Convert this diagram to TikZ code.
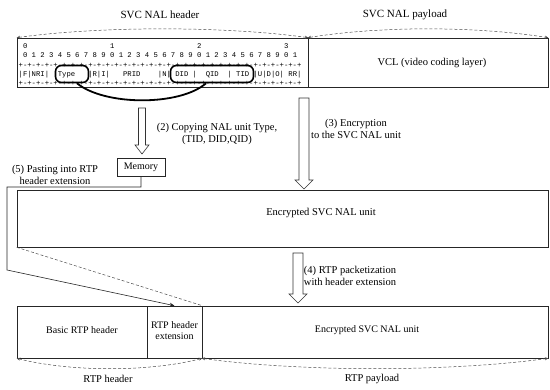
\documentclass[tikz,border=0pt]{standalone}
\usepackage{fontspec}
\setmainfont{Liberation Serif}
\setmonofont{Liberation Mono}
\usetikzlibrary{arrows.meta}
\newcommand\hollowdown[6]{% name, x, ytop, ytip, shaft half, head half
  \draw[hollow] (#2-#5,#3) -- (#2+#5,#3) -- (#2+#5,#4-9) -- (#2+#6,#4-9) -- (#2,#4) coordinate (#1) -- (#2-#6,#4-9) -- (#2-#5,#4-9) -- cycle;}
\begin{document}
\begin{tikzpicture}[x=1pt,y=-1pt,
  lbl/.style={font=\fontsize{10.5}{11.5}\selectfont, align=center, inner sep=0pt},
  bits/.style={font=\fontsize{7.25}{8}\selectfont\ttfamily, anchor=base west, inner sep=0pt},
  frame/.style={draw=black!85, line width=0.6pt, inner sep=0pt},
  brace/.style={draw=black!70, densely dashed, line width=0.5pt, {Stealth[length=3.5pt,width=3pt]}-{Stealth[length=3.5pt,width=3pt]}},
  hollow/.style={draw=black!80, line width=0.6pt, fill=white},
  callout/.style={draw=black, line width=1.6pt, rounded corners=6pt, inner sep=0pt},
  conn/.style={draw=black!85, line width=0.6pt},
]
\useasboundingbox (0,0) rectangle (550,390);
% top row
\node[frame, minimum width=291pt, minimum height=49pt] (hdr) at (162.5,62.5) {};
\node[frame, minimum width=240pt, minimum height=49pt] (pay) at (428,62.5) {};
\node[lbl] (vcl) at (432,63) {VCL (video coding layer)};
\node[bits] (r1) at (18.5,48.5) {~0~~~~~~~~~~~~~~~~~~~1~~~~~~~~~~~~~~~~~~~2~~~~~~~~~~~~~~~~~~~3};
\node[bits] (r2) at (18.5,58) {~0~1~2~3~4~5~6~7~8~9~0~1~2~3~4~5~6~7~8~9~0~1~2~3~4~5~6~7~8~9~0~1};
\node[bits] (r3) at (18.5,67.5) {+-+-+-+-+-+-+-+-+-+-+-+-+-+-+-+-+-+-+-+-+-+-+-+-+-+-+-+-+-+-+-+-+};
\node[bits] (r4) at (18.5,77) {|F|NRI|~~Type~~~|R|I|~~~PRID~~~~|N|~DID~|~~QID~~|~TID~|U|D|O|~RR|};
\node[bits] (r5) at (18.5,86) {+-+-+-+-+-+-+-+-+-+-+-+-+-+-+-+-+-+-+-+-+-+-+-+-+-+-+-+-+-+-+-+-+};
\node[callout, minimum width=33pt, minimum height=17pt] (ctype) at (72,74) {};
\node[callout, minimum width=83pt, minimum height=17pt] (cdid) at (212,74) {};
\draw[line width=1.8pt] ([xshift=5pt]ctype.south) .. controls (105,106) and (180,106) .. ([xshift=-6pt]cdid.south);
% braces top
\node[lbl, font=\fontsize{11}{12}\selectfont] (thdr) at (160,15) {SVC NAL header};
\node[lbl, font=\fontsize{11}{12}\selectfont] (tpay) at (405,15) {SVC NAL payload};
\draw[brace] (hdr.north west) .. controls (100,26) and (225,26) .. (hdr.north east);
\draw[brace] (pay.north west) .. controls (380,26) and (475,26) .. (pay.north east);
% step 2
\hollowdown{a2}{142}{108}{154}{3.5}{7}
\node[lbl] (l2) at (217,134) {(2) Copying NAL unit Type,\\(TID, DID,QID)};
\node[frame, minimum width=48pt, minimum height=18pt, font=\fontsize{10}{11}\selectfont] (mem) at (141,167) {Memory};
% step 3
\hollowdown{a3}{304}{98}{189}{5}{9}
\node[lbl] (l3) at (356,129) {(3) Encryption\\to the SVC NAL unit};
% encrypted
\node[frame, minimum width=531pt, minimum height=57pt] (enc) at (282.5,218.5) {};
\node[lbl] (tenc) at (321,213) {Encrypted SVC NAL unit};
% step 5
\node[lbl] (l5) at (55,175) {(5) Pasting into RTP\\header extension};
% step 4
\hollowdown{a4}{298}{253}{303}{5}{9}
\node[lbl] (l4) at (350,276) {(4) RTP packetization\\with header extension};
% RTP row
\node[frame, minimum width=130pt, minimum height=52pt] (basic) at (82,332) {};
\node[frame, minimum width=55pt, minimum height=52pt] (ext) at (174.5,332) {};
\node[frame, minimum width=346pt, minimum height=52pt] (rpay) at (375,332) {};
\node[lbl, font=\fontsize{10}{11}\selectfont] (tbasic) at (82,330) {Basic RTP header};
\node[lbl, font=\fontsize{10}{11}\selectfont] (text) at (174.5,331) {RTP header\\extension};
\node[lbl, font=\fontsize{10}{11}\selectfont] (trpay) at (367,330) {Encrypted SVC NAL unit};
% connectors
\coordinate (p1) at (141,187);
\coordinate (p2) at (7,187);
\coordinate (p3) at (7,270);
\draw[conn, -{Stealth[length=5pt,width=4pt]}] (mem.south) -- (p1) -- (p2) -- (p3) -- (ext.north);
\draw[draw=black!70, densely dashed, line width=0.5pt] (enc.south west) -- (ext.north east);
% bottom braces
\draw[brace] (basic.south west) .. controls (70,372) and (150,372) .. (ext.south east);
\draw[brace] (rpay.south west) .. controls (300,372) and (450,372) .. (rpay.south east);
\node[lbl] (tbh) at (108,379) {RTP header};
\node[lbl] (tbp) at (372,379) {RTP payload};
\end{tikzpicture}
\end{document}
